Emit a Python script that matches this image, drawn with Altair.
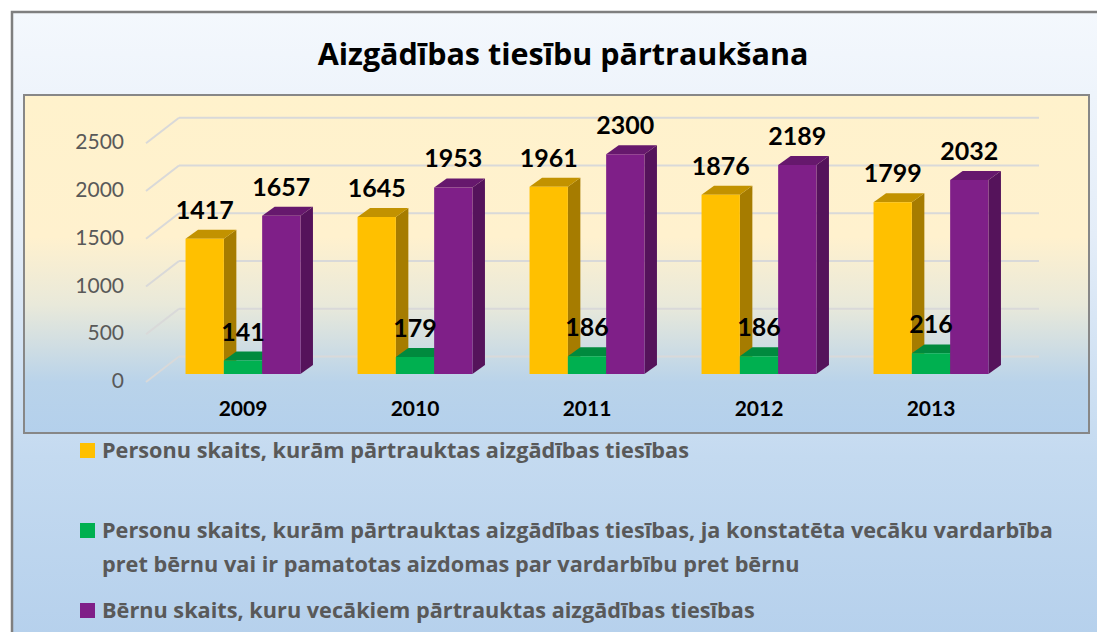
import altair as alt
import pandas as pd

# ---------------- data ----------------
years = ["2009", "2010", "2011", "2012", "2013"]
persons = [1417, 1645, 1961, 1876, 1799]
persons_violence = [141, 179, 186, 186, 216]
children = [1657, 1953, 2300, 2189, 2032]
series_names = [
    "Personu skaits, kurām pārtrauktas aizgādības tiesības",
    "Personu skaits, kurām pārtrauktas aizgādības tiesības, ja konstatēta vecāku vardarbība\npret bērnu vai ir pamatotas aizdomas par vardarbību pret bērnu",
    "Bērnu skaits, kuru vecākiem pārtrauktas aizgādības tiesības",
]
y_ticks = [0, 500, 1000, 1500, 2000, 2500]
title_text = "Aizgādības tiesību pārtraukšana"

# ---------------- styles / layout ----------------
keys = ["s0", "s1", "s2"]
front_colors = ["#FFC000", "#00B050", "#7F1F88"]
side_colors = ["#A67C00", "#007A37", "#55135B"]
top_colors = ["#C29200", "#008A3E", "#66186D"]
FONT = "Lato"
FONT2 = "Open Sans"
W, H = 1089, 624
BW = 0.2227      # bar width (in group units)
DX = 0.0727      # 3d depth, horizontal (group units)
DYV = 94         # 3d depth, vertical (value units)

xs = alt.Scale(domain=[0, 4], range=[235, 923], nice=False, zero=False)
ys = alt.Scale(domain=[0, 2500], range=[366, 127.25], nice=False, zero=False)
legend_scale = alt.Scale(domain=[0, 2], range=[450, 610], nice=False, zero=False)

all_series = [persons, persons_violence, children]
front_rows, side_rows, top_rows = [], [], []
for i, yr in enumerate(years):
    for s, vals in enumerate(all_series):
        v = vals[i]
        c = i + (s - 1) * BW
        xl, xr = c - BW / 2, c + BW / 2
        k = f"{yr}-{s}"
        front_rows.append(dict(key=k, series=keys[s], xl=xl, xr=xr, xc=c, v=v, label=str(v)))
        side_rows.append(dict(key=k, series=keys[s], x=xr, lo=0, hi=v))
        side_rows.append(dict(key=k, series=keys[s], x=xr + DX, lo=DYV, hi=v + DYV))
        top_rows.append(dict(key=k, series=keys[s], yv=v, xa=xl, xb=xr))
        top_rows.append(dict(key=k, series=keys[s], yv=v + DYV, xa=xl + DX, xb=xr + DX))

front_df = pd.DataFrame(front_rows)
side_df = pd.DataFrame(side_rows)
top_df = pd.DataFrame(top_rows)
tick_df = pd.DataFrame({"v": y_ticks, "label": [str(t) for t in y_ticks]})
year_df = pd.DataFrame({"i": list(range(len(years))), "year": years})
legend_df = pd.DataFrame({"series": keys, "idx": list(range(len(keys))), "name": series_names})
one = pd.DataFrame({"a": [0]})

def grad(stops):
    return alt.LinearGradient(
        gradient="linear",
        stops=[alt.GradientStop(color=c, offset=o) for o, c in stops],
        x1=0, x2=0, y1=0, y2=1,
    )

outer_bg = alt.Chart(one).mark_rect(
    fill=grad([(0, "#F4F8FD"), (0.35, "#E4EDF8"), (0.7, "#C4DAF0"), (1, "#B5D0EC")]),
    stroke="#7F7F7F", strokeWidth=2.5,
).encode(x=alt.value(4), x2=alt.value(1100), y=alt.value(4), y2=alt.value(640))

plot_bg = alt.Chart(one).mark_rect(
    fill=grad([(0, "#FFF2CC"), (0.42, "#FFF1CE"), (0.62, "#E9E9DA"), (0.85, "#B9D3EA"), (1, "#B4D0EC")]),
    stroke="#878787", strokeWidth=2,
).encode(x=alt.value(16), x2=alt.value(1081), y=alt.value(87), y2=alt.value(425))

grid_slant = alt.Chart(tick_df).mark_rule(
    color="#D9D9D9", strokeWidth=2, yOffset=8, y2Offset=-17.5
).encode(x=alt.value(138), x2=alt.value(171),
         y=alt.Y("v:Q", scale=ys, axis=None), y2="v:Q")

grid_back = alt.Chart(tick_df).mark_rule(
    color="#D9D9D9", strokeWidth=2, yOffset=-17.5
).encode(x=alt.value(171), x2=alt.value(1031),
         y=alt.Y("v:Q", scale=ys, axis=None))

tick_labels = alt.Chart(tick_df).mark_text(
    align="right", baseline="middle", dy=8, font=FONT, fontSize=21, color="#595959"
).encode(x=alt.value(116), y=alt.Y("v:Q", scale=ys, axis=None), text="label:N")

sides = alt.Chart(side_df).mark_area(orient="vertical", opacity=1).encode(
    x=alt.X("x:Q", scale=xs, axis=None),
    y=alt.Y("lo:Q", scale=ys, axis=None, stack=None),
    y2="hi:Q",
    detail="key:N",
    color=alt.Color("series:N", scale=alt.Scale(domain=keys, range=side_colors), legend=None),
)

tops = alt.Chart(top_df).mark_area(orient="horizontal", opacity=1).encode(
    y=alt.Y("yv:Q", scale=ys, axis=None),
    x=alt.X("xa:Q", scale=xs, axis=None, stack=None),
    x2="xb:Q",
    detail="key:N",
    color=alt.Color("series:N", scale=alt.Scale(domain=keys, range=top_colors), legend=None),
)

fronts = alt.Chart(front_df).mark_rect().encode(
    x=alt.X("xl:Q", scale=xs, axis=None),
    x2="xr:Q",
    y=alt.Y("v:Q", scale=ys, axis=None),
    y2=alt.datum(0),
    color=alt.Color("series:N", scale=alt.Scale(domain=keys, range=front_colors), legend=None),
)

value_labels = alt.Chart(front_df).mark_text(
    baseline="middle", align="center", dy=-28, font=FONT, fontSize=25, fontWeight="bold", color="#000000"
).encode(x=alt.X("xc:Q", scale=xs, axis=None), y=alt.Y("v:Q", scale=ys, axis=None), text="label:N")

year_labels = alt.Chart(year_df).mark_text(
    baseline="middle", align="center", font=FONT, fontSize=21, fontWeight="bold", color="#000000"
).encode(x=alt.X("i:Q", scale=xs, axis=None), y=alt.value(402), text="year:N")

title = alt.Chart(pd.DataFrame({"t": [title_text]})).mark_text(
    baseline="middle", align="center", font=FONT2, fontSize=30.5, fontWeight="bold", color="#000000"
).encode(x=alt.value(555), y=alt.value(48), text="t:N")

legend_sq = alt.Chart(legend_df).mark_square(size=225, opacity=1, filled=True, yOffset=-7.5).encode(
    x=alt.value(79.5),
    y=alt.Y("idx:Q", scale=legend_scale, axis=None),
    color=alt.Color("series:N", scale=alt.Scale(domain=keys, range=front_colors), legend=None),
)

legend_txt = alt.Chart(legend_df).mark_text(
    align="left", baseline="alphabetic", lineBreak="\n", lineHeight=34,
    font=FONT2, fontSize=21.7, fontWeight="bold", color="#595959"
).encode(
    x=alt.value(94),
    y=alt.Y("idx:Q", scale=legend_scale, axis=None),
    text="name:N",
)

chart = alt.layer(
    outer_bg, plot_bg, grid_slant, grid_back, tick_labels,
    sides, tops, fronts, value_labels, year_labels, title, legend_sq, legend_txt,
).resolve_scale(color="independent", x="independent", y="independent").properties(
    width=W, height=H, padding=0,
    autosize=alt.AutoSizeParams(type="none"),
    background="white",
).configure_view(stroke=None)

chart.save("out.html", embed_options={"renderer": "svg", "actions": False})
